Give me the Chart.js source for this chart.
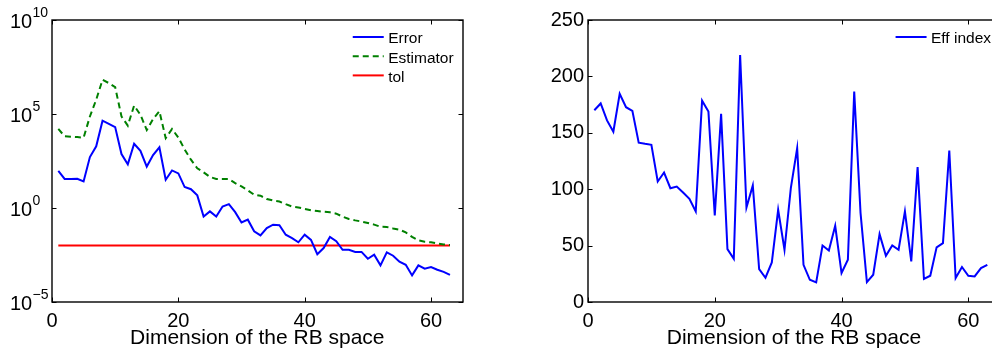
<!DOCTYPE html>
<html>
<head>
<meta charset="utf-8">
<script src="https://cdn.jsdelivr.net/npm/chart.js@4.4.1/dist/chart.umd.min.js"></script>
<style>
  html, body { margin: 0; padding: 0; background: #fff; overflow: hidden; width: 992px; height: 354px; }
  #c1 { position: absolute; left: 0; top: 0; }
  #c2 { position: absolute; left: 496px; top: 0; }
</style>
</head>
<body>
<canvas id="c1" width="496" height="354"></canvas>
<canvas id="c2" width="520" height="354"></canvas>
<script>
// ---------- data ----------
const dims = [1,2,3,4,5,6,7,8,9,10,11,12,13,14,15,16,17,18,19,20,21,22,23,24,25,26,27,28,29,30,31,32,33,34,35,36,37,38,39,40,41,42,43,44,45,46,47,48,49,50,51,52,53,54,55,56,57,58,59,60,61,62,63];
const errorVals = [93, 35, 35, 36, 26, 510, 1900, 44000, 30000, 20000, 740, 210, 2600, 1100, 160, 660, 1700, 32, 100, 69, 13, 10, 4.7, 0.35, 0.66, 0.35, 1.2, 1.6, 0.6, 0.17, 0.24, 0.058, 0.035, 0.085, 0.13, 0.12, 0.038, 0.025, 0.015, 0.038, 0.02, 0.0035, 0.0074, 0.029, 0.017, 0.006, 0.006, 0.0046, 0.0046, 0.002, 0.0033, 0.00089, 0.0044, 0.0029, 0.0014, 0.00095, 0.00026, 0.00089, 0.00059, 0.00072, 0.00052, 0.0004, 0.00028];
const estimatorVals = [16000, 6500, 6200, 5900, 5500, 74000, 580000, 6600000, 4400000, 2700000, 74000, 24000, 280000, 91000, 14000, 54000, 140000, 5200, 16000, 5600, 1300, 370, 130, 79, 45, 35, 35, 35, 21, 14, 8.7, 5.1, 4.5, 3.0, 2.5, 2.2, 1.6, 1.2, 1.07, 0.89, 0.76, 0.69, 0.63, 0.59, 0.5, 0.35, 0.26, 0.22, 0.19, 0.16, 0.13, 0.1, 0.098, 0.081, 0.071, 0.05, 0.029, 0.019, 0.016, 0.015, 0.013, 0.0115, 0.0107];
const tolX = [1, 63];
const tolVals = [0.01, 0.01];
const effVals = [170, 176, 161, 151, 184.5, 172.7, 169.4, 141.3, 140.2, 139.3, 106.8, 114.8, 100.9, 102.4, 97.1, 91.5, 80.3, 178.5, 168.8, 76.7, 166.8, 46.9, 38.3, 219, 83.8, 103.3, 29.2, 21.5, 35.1, 81.7, 46.3, 100.9, 136.4, 33, 19.7, 17.4, 50.1, 45.7, 67.6, 25.7, 37.5, 186.5, 78.8, 17.7, 24.2, 60.2, 41, 50.1, 46.3, 80.3, 36, 119.6, 20.4, 23.3, 48.4, 52.2, 134.3, 21.2, 31, 23.3, 22.7, 30.1, 33];
const xTickValues = [0, 20, 40, 60];
const logTickValues = [1e-5, 1e0, 1e5, 1e10];
const logTickBase = ['10', '10', '10', '10'];
const logTickExps = ['\u22125', '0', '5', '10'];
const linTickValues = [0, 50, 100, 150, 200, 250];
const xTitle = 'Dimension of the RB space';
const seriesLabels = ['Error', 'Estimator', 'tol', 'Eff index'];

// ---------- helpers ----------
const FONT = '"Liberation Sans", Arial, Helvetica, sans-serif';
const pts = (xs, ys) => xs.map((x, i) => ({ x: x, y: ys[i] }));

const boxPlugin = {
  id: 'matlabBox',
  afterDraw(chart) {
    const ctx = chart.ctx, a = chart.chartArea;
    const L = Math.round(a.left), R = Math.round(a.right), T = Math.round(a.top), B = Math.round(a.bottom);
    ctx.save();
    ctx.strokeStyle = '#000';
    ctx.lineWidth = 1.4;
    ctx.strokeRect(L, T, R - L, B - T);
    ctx.lineWidth = 1;
    const xs = chart.scales.x, ys = chart.scales.y;
    const seg = (x1, y1, x2, y2) => { ctx.beginPath(); ctx.moveTo(x1, y1); ctx.lineTo(x2, y2); ctx.stroke(); };
    xs.ticks.forEach(t => {
      const px = Math.round(xs.getPixelForValue(t.value)) + 0.5;
      seg(px, B, px, B - 4.5); seg(px, T, px, T + 4.5);
    });
    ys.ticks.forEach(t => {
      const py = Math.round(ys.getPixelForValue(t.value)) + 0.5;
      seg(L, py, L + 4.5, py); seg(R, py, R - 4.5, py);
    });
    ctx.restore();
  }
};

const legendPlugin = {
  id: 'boxLegend',
  afterDatasetsDraw(chart) {
    const ctx = chart.ctx, a = chart.chartArea;
    ctx.save();
    ctx.font = '15.5px ' + FONT;
    const items = chart.data.datasets;
    const maxW = Math.max(...items.map(d => ctx.measureText(d.label).width));
    const tx = a.right - 9 - maxW;
    items.forEach((d, i) => {
      const y = a.top + 17 + i * 19.2;
      ctx.strokeStyle = d.borderColor;
      ctx.lineWidth = 2;
      ctx.setLineDash(d.borderDash || []);
      ctx.beginPath(); ctx.moveTo(tx - 35.4, y); ctx.lineTo(tx - 4.4, y); ctx.stroke();
      ctx.setLineDash([]);
      ctx.fillStyle = '#000';
      ctx.textAlign = 'left';
      ctx.textBaseline = 'alphabetic';
      ctx.fillText(d.label, tx, y + 6.3);
    });
    ctx.restore();
  }
};

const logLabelPlugin = {
  id: 'logLabels',
  afterDraw(chart) {
    const ctx = chart.ctx, a = chart.chartArea, ys = chart.scales.y;
    ctx.save();
    ctx.fillStyle = '#000';
    ctx.textAlign = 'left';
    ctx.textBaseline = 'alphabetic';
    logTickValues.forEach((v, i) => {
      const py = ys.getPixelForValue(v);
      ctx.font = '20px ' + FONT;
      ctx.fillText(logTickBase[i], a.left - 42, py + 7.5);
      ctx.font = '14px ' + FONT;
      ctx.fillText(logTickExps[i], a.left - 19.5, py - 3);
    });
    ctx.restore();
  }
};

const xScale = {
  type: 'linear', min: 0, max: 65,
  afterBuildTicks: s => { s.ticks = xTickValues.map(v => ({ value: v })); },
  afterFit: s => { s.height = 52; },
  grid: { display: false, drawTicks: false },
  border: { display: false },
  ticks: { font: { family: FONT, size: 20 }, color: '#000', padding: 7, maxRotation: 0, autoSkip: false },
  title: { display: true, text: xTitle, font: { family: FONT, size: 21 }, color: '#000', padding: { top: 0, bottom: 3 } }
};

// ---------- left chart ----------
new Chart(document.getElementById('c1'), {
  type: 'line',
  data: {
    datasets: [
      { label: seriesLabels[0], data: pts(dims, errorVals), borderColor: '#0000ff', borderWidth: 2, pointRadius: 0, tension: 0, fill: false },
      { label: seriesLabels[1], data: pts(dims, estimatorVals), borderColor: '#008000', borderWidth: 2, borderDash: [6, 4], pointRadius: 0, tension: 0, fill: false },
      { label: seriesLabels[2], data: pts(tolX, tolVals), borderColor: '#ff0000', borderWidth: 2, pointRadius: 0, tension: 0, fill: false }
    ]
  },
  options: {
    responsive: false, animation: false, devicePixelRatio: 1,
    layout: { padding: { top: 20, right: 33.4, bottom: 0, left: 0 } },
    plugins: { legend: { display: false }, tooltip: { enabled: false } },
    scales: {
      x: JSON.parse(JSON.stringify(xScale)) && Object.assign({}, xScale, { ticks: Object.assign({}, xScale.ticks) }),
      y: {
        type: 'logarithmic', min: 1e-5, max: 1e10,
        afterBuildTicks: s => { s.ticks = logTickValues.map(v => ({ value: v })); },
        afterFit: s => { s.width = 52; },
        grid: { display: false, drawTicks: false },
        border: { display: false },
        ticks: { display: false }
      }
    }
  },
  plugins: [boxPlugin, legendPlugin, logLabelPlugin]
});

// ---------- right chart ----------
new Chart(document.getElementById('c2'), {
  type: 'line',
  data: {
    datasets: [
      { label: seriesLabels[3], data: pts(dims, effVals), borderColor: '#0000ff', borderWidth: 2, pointRadius: 0, tension: 0, fill: false }
    ]
  },
  options: {
    responsive: false, animation: false, devicePixelRatio: 1,
    layout: { padding: { top: 20, right: 16, bottom: 0, left: 0 } },
    plugins: { legend: { display: false }, tooltip: { enabled: false } },
    scales: {
      x: Object.assign({}, xScale, { ticks: Object.assign({}, xScale.ticks) }),
      y: {
        type: 'linear', min: 0, max: 250,
        afterBuildTicks: s => { s.ticks = linTickValues.map(v => ({ value: v })); },
        afterFit: s => { s.width = 92; },
        grid: { display: false, drawTicks: false },
        border: { display: false },
        ticks: { font: { family: FONT, size: 20 }, color: '#000', padding: 4 }
      }
    }
  },
  plugins: [boxPlugin, legendPlugin]
});
</script>
</body>
</html>
